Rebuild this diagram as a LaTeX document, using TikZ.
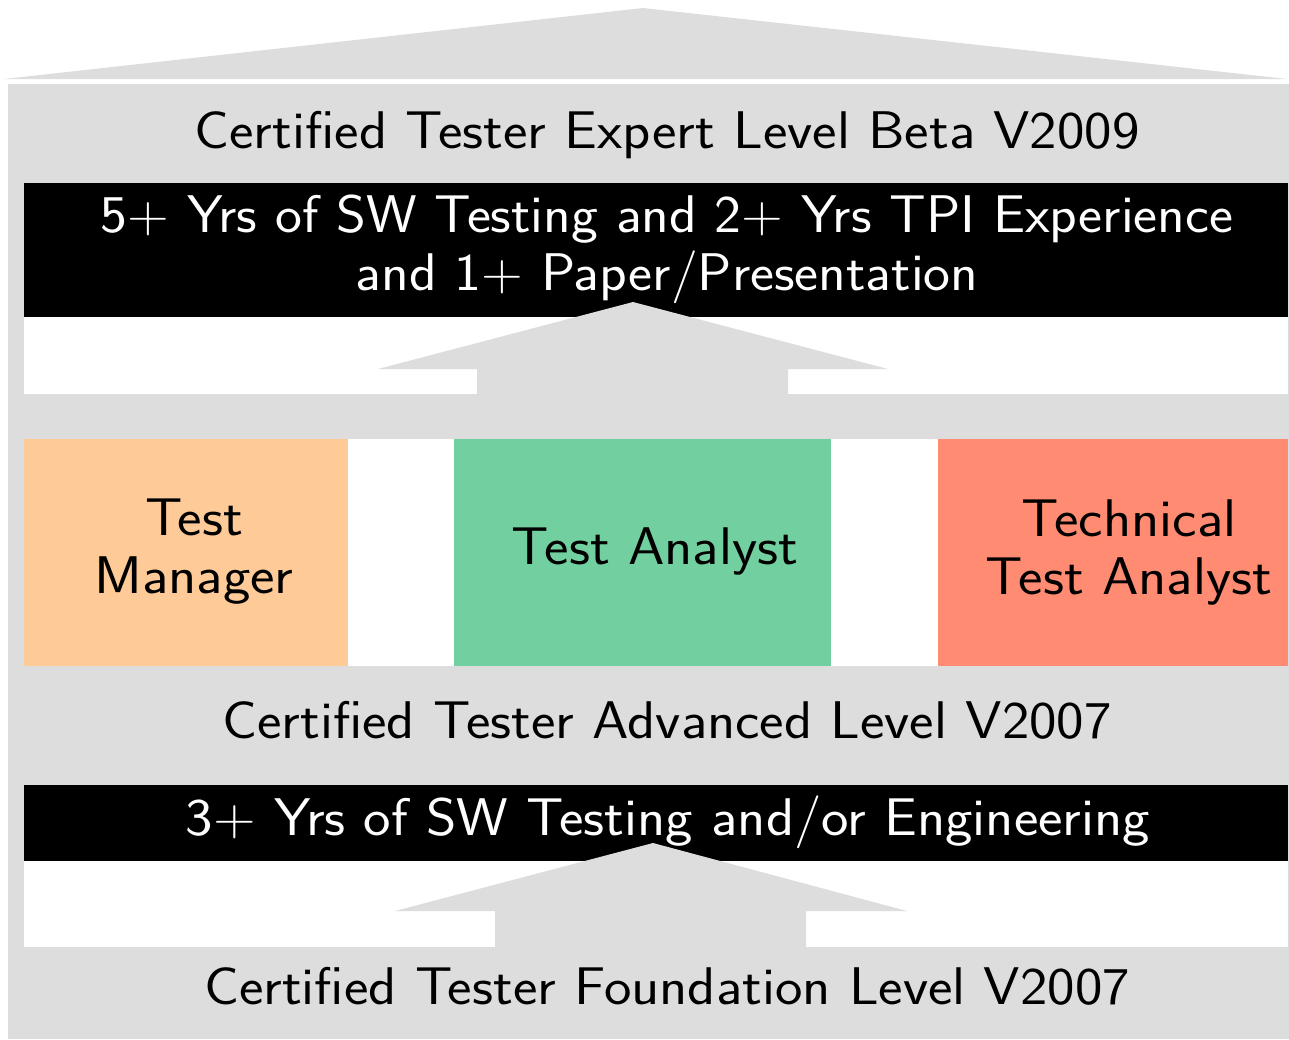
\documentclass[tikz,border=0pt]{standalone}
\usepackage{fontspec}
\definecolor{roofgray}{HTML}{DDDDDD}
\definecolor{tmorange}{HTML}{FECA98}
\definecolor{tagreen}{HTML}{72D0A0}
\definecolor{ttasalmon}{HTML}{FF8C72}
\begin{document}
\begin{tikzpicture}[x=1pt,y=-1pt,
  lbl/.style={font=\fontsize{53}{58}\selectfont\sffamily\addfontfeatures{LetterSpace=8}, inner sep=0pt, align=center, text=black, xscale=1.1, transform shape},
  wlbl/.style={lbl, text=white}]
\useasboundingbox (0,0) rectangle (1289,1039);
% roof
\fill[roofgray] (4,79) -- (643,8) -- (1287,79) -- cycle;
% main body
\fill[roofgray] (8,84) rectangle (1289,1039);
% black bars
\fill[black] (24,183) rectangle (1288,317);
\fill[white] (24,317) rectangle (1288,394);
\fill[black] (24,785) rectangle (1288,861);
\fill[white] (24,861) rectangle (1288,947);
% colored boxes
\fill[white] (24,439) rectangle (1288,666);
\fill[tmorange] (24,439) rectangle (348,666);
\fill[tagreen] (454,439) rectangle (831,666);
\fill[ttasalmon] (938,439) rectangle (1288,666);
% arrows
\fill[roofgray] (633,302) -- (888,369) -- (788,369) -- (788,394) -- (477,394) -- (477,369) -- (378,369) -- cycle;
\fill[roofgray] (653,843) -- (907,911) -- (806,911) -- (806,947) -- (495,947) -- (495,911) -- (395,911) -- cycle;
% texts
\node[lbl] (expert) at (667,135) {Certified Tester Expert Level Beta V2009};
\node[wlbl, xscale=0.98] (req1) at (667,249) {5+ Yrs of SW Testing and 2+ Yrs TPI Experience\\and 1+ Paper/Presentation};
\node[lbl] (tm) at (194,552) {Test\\Manager};
\node[lbl] (ta) at (655,551) {Test Analyst};
\node[lbl] (tta) at (1129,552) {Technical\\Test Analyst};
\node[lbl] (adv) at (667,720) {Certified Tester Advanced Level V2007};
\node[wlbl] (req2) at (668,822) {3+ Yrs of SW Testing and/or Engineering};
\node[lbl] (found) at (667,986) {Certified Tester Foundation Level V2007};
\end{tikzpicture}
\end{document}
